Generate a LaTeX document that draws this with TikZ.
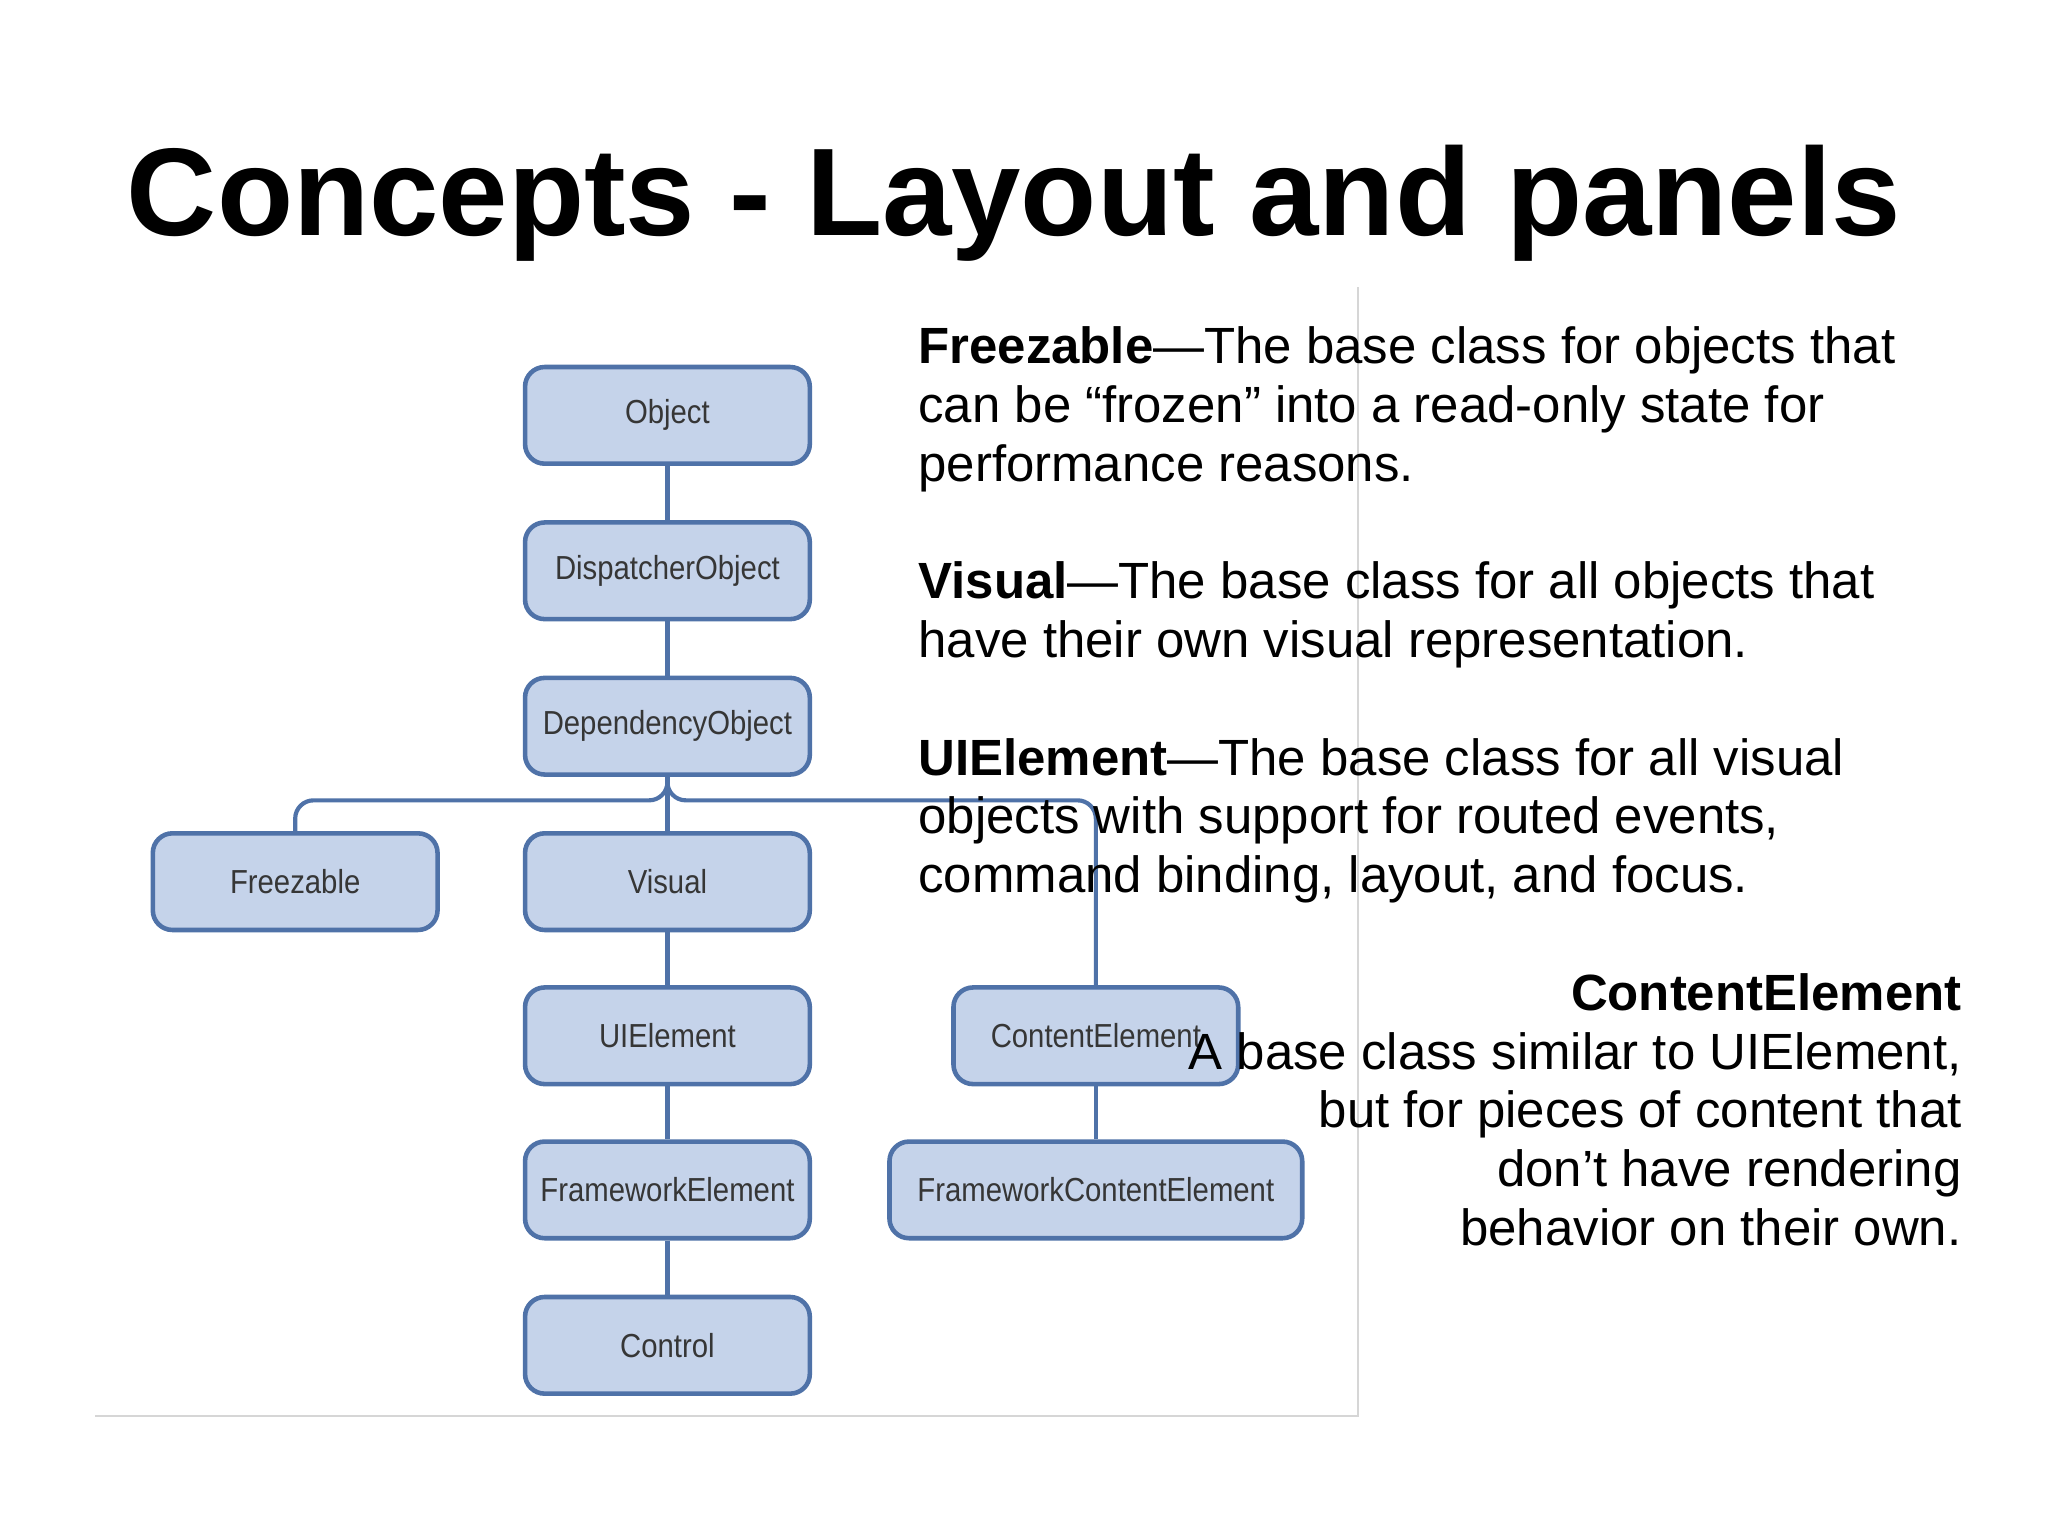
\documentclass[tikz,border=0pt]{standalone}
\usepackage{fontspec}
\setmainfont{Liberation Sans}
\newfontfamily\boxfont[FakeStretch=0.88]{Liberation Sans}
\definecolor{boxfill}{HTML}{C5D3EA}
\definecolor{boxline}{HTML}{4F72A8}
\definecolor{boxtext}{HTML}{363636}
\definecolor{framegray}{HTML}{D6D6D6}
\tikzset{
  cls/.style={draw=boxline, fill=boxfill, line width=3.5pt, rounded corners=15pt,
    minimum width=218pt, minimum height=74pt, inner sep=0pt,
    text=boxtext, font=\boxfont\fontsize{25.5}{28}\selectfont},
  conn/.style={draw=boxline, line width=3.2pt},
  para/.style={anchor=north west, align=left, inner sep=0pt,
    font=\fontsize{39}{45}\selectfont},
  parar/.style={anchor=north east, align=right, inner sep=0pt,
    font=\fontsize{39}{45}\selectfont}
}
\begin{document}
\begin{tikzpicture}[x=1pt, y=-1pt]
\useasboundingbox (0,0) rectangle (1568,1176);
\fill[white] (0,0) rectangle (1568,1176);
% frame of embedded picture
\draw[framegray, line width=1.5pt] (73,1084) -- (1040,1084) -- (1040,220);
% title
\node[anchor=base west, inner sep=0pt, font=\fontsize{95.5}{100}\selectfont\bfseries] (title) at (97,180) {Concepts - Layout and panels};
% class boxes
\node[cls] (obj) at (511,318) {Object};
\node[cls] (disp) at (511,437) {DispatcherObject};
\node[cls] (dep) at (511,556) {DependencyObject};
\node[cls] (freez) at (226,675) {Freezable};
\node[cls] (vis) at (511,675) {Visual};
\node[cls] (uie) at (511,793) {UIElement};
\node[cls] (fwe) at (511,911) {FrameworkElement};
\node[cls] (ctrl) at (511,1030) {Control};
\node[cls] (ce) at (839,793) {ContentElement};
\node[cls, minimum width=316pt] (fce) at (839,911) {FrameworkContentElement};
% connectors
\draw[conn] (obj) -- (disp);
\draw[conn] (disp) -- (dep);
\draw[conn] (dep) -- (vis);
\draw[conn, rounded corners=14pt] (dep.south) -- ++(0,18) -| (freez.north);
\draw[conn, rounded corners=14pt] (dep.south) -- ++(0,18) -| (ce.north);
\draw[conn] (vis) -- (uie);
\draw[conn] (uie) -- (fwe);
\draw[conn] (fwe) -- (ctrl);
\draw[conn] (ce) -- (fce);
% descriptions
\node[para] (tfreez) at (703,250) {\textbf{Freezable}—The base class for objects that\\can be “frozen” into a read-only state for\\performance reasons.};
\node[para] (tvis) at (703,430) {\textbf{Visual}—The base class for all objects that\\have their own visual representation.};
\node[para] (tuie) at (703,565) {\textbf{UIElement}—The base class for all visual\\objects with support for routed events,\\command binding, layout, and focus.};
\node[parar] (tce) at (1502,745) {\textbf{ContentElement}\\A base class similar to UIElement,\\but for pieces of content that\\don’t have rendering\\behavior on their own.};
\end{tikzpicture}
\end{document}
